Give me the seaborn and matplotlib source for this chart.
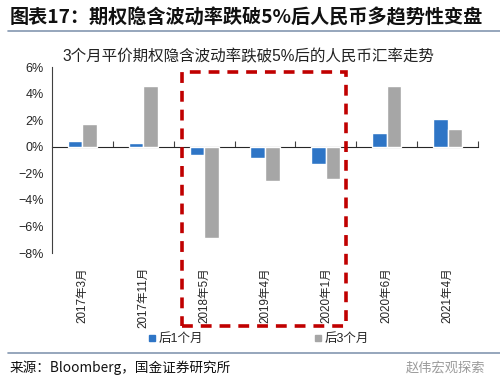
import matplotlib
matplotlib.use("Agg")
import matplotlib.pyplot as plt
import matplotlib.transforms as mtransforms
from matplotlib.patches import Rectangle
from matplotlib.lines import Line2D
import numpy as np
import pandas as pd
import seaborn as sns

# data (%)
months = ["2017年3月", "2017年11月", "2018年5月", "2019年4月", "2020年1月", "2020年6月", "2021年4月"]
after_1m = [0.4, 0.25, -0.6, -0.85, -1.3, 1.05, 2.1]
after_3m = [1.7, 4.6, -6.9, -2.55, -2.4, 4.55, 1.35]
series = ["后1个月", "后3个月"]
colors = ["#2E75C6", "#A6A6A6"]

df = pd.DataFrame({
    "month": months * 2,
    "value": after_1m + after_3m,
    "series": [series[0]] * len(months) + [series[1]] * len(months),
})

sns.set_style("white")
plt.rcParams["font.family"] = ["Noto Sans CJK SC", "DejaVu Sans"]
plt.rcParams["axes.unicode_minus"] = True
latin_cjk = ["Liberation Sans", "Noto Sans CJK SC"]

fig = plt.figure(figsize=(5, 3.9), dpi=100)
ax = fig.add_axes([0.104, 0.351, 0.852, 0.477])

sns.barplot(data=df, x="month", y="value", hue="series", order=months,
            hue_order=series, palette=colors, width=0.48, gap=0,
            saturation=1, ax=ax, legend=False)

ax.set_ylim(-8, 6)
ax.set_xlim(-0.5, len(months) - 0.5)
ax.set_yticks(np.arange(-8, 7, 2))
ax.set_yticklabels([f"{v}%".replace("-", "−") for v in range(-8, 7, 2)],
                   family=["Liberation Sans", "DejaVu Sans"], fontsize=9)
ax.set_xlabel("")
ax.set_ylabel("")
ax.tick_params(axis="y", direction="out", length=4, width=0.8, color="#404040", pad=2)
ax.tick_params(axis="x", length=0, pad=10)
for lab in ax.get_xticklabels():
    lab.set_rotation(90)
    lab.set_fontsize(8.4)
    lab.set_family(latin_cjk)
for s in ["top", "right", "bottom"]:
    ax.spines[s].set_visible(False)
ax.spines["left"].set_color("#404040")
ax.spines["left"].set_linewidth(0.8)

# zero line with category boundary ticks
zero = ax.secondary_xaxis(8 / 14)
zero.set_xticks(np.arange(0.5, len(months), 1.0))
zero.set_xticklabels([])
zero.tick_params(direction="out", length=4, width=0.8, color="#404040")
zero.spines["bottom"].set_color("#404040")
zero.spines["bottom"].set_linewidth(0.9)

# dashed highlight box around 2018-2020
trans = mtransforms.blended_transform_factory(ax.transData, ax.transAxes)
box = Rectangle((1.636, -0.392), 4.33 - 1.636, 0.973 + 0.392, transform=trans,
                fill=False, edgecolor="#C00000", linewidth=2.6,
                linestyle=(0, (3, 2.2)), clip_on=False, zorder=5)
ax.add_patch(box)

# legend
handles = [Line2D([], [], marker="s", linestyle="", markersize=4.5,
                  markerfacecolor=c, markeredgecolor=c) for c in colors]
fig.legend(handles, series, loc="center", bbox_to_anchor=(0.517, 0.131), ncol=2,
           frameon=False, handletextpad=0.2, columnspacing=8.9,
           handlelength=0.6, prop={"family": latin_cjk, "size": 9})

# subtitle, title, source
fig.text(0.124, 0.856, "3个月平价期权隐含波动率跌破5%后的人民币汇率走势",
         fontsize=11.2, color="#222222", va="center", family=latin_cjk)
fig.text(0.02, 0.955, "图表17：期权隐含波动率跌破5%后人民币多趋势性变盘",
         fontsize=13.8, fontweight="bold", color="#111111", va="center")
fig.add_artist(Line2D([0.016, 1.0], [0.921, 0.921], color="#8497B0", linewidth=1.2))
fig.add_artist(Line2D([0.016, 1.0], [0.095, 0.095], color="#8497B0", linewidth=1.2))
fig.text(0.02, 0.057, "来源：Bloomberg，国金证券研究所", fontsize=9.8,
         color="#111111", va="center")
fig.text(0.97, 0.057, "赵伟宏观探索", fontsize=9.5, color="#9A9A9A",
         va="center", ha="right")

fig.savefig("out.png", dpi=100)
